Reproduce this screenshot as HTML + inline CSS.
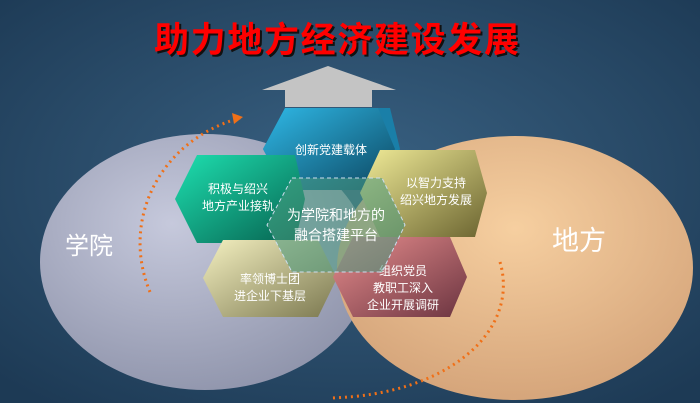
<!DOCTYPE html>
<html><head><meta charset="utf-8"><style>
body{margin:0;width:700px;height:403px;overflow:hidden;background:#2b4a66}
svg{display:block}
text{font-family:"Liberation Sans","Noto Sans CJK SC",sans-serif}
</style></head><body>
<svg width="700" height="403" viewBox="0 0 700 403">
<defs>
<radialGradient id="bg" cx="0.5" cy="0.45" r="0.7"><stop offset="0" stop-color="#3a6283"/><stop offset="1" stop-color="#1d3a55"/></radialGradient>
<radialGradient id="le" cx="0.4" cy="0.35" r="0.7"><stop offset="0" stop-color="#c6c9dc"/><stop offset="1" stop-color="#8f94ab"/></radialGradient>
<radialGradient id="re" cx="0.5" cy="0.35" r="0.7"><stop offset="0" stop-color="#f6cfa0"/><stop offset="1" stop-color="#d3a278"/></radialGradient>
<linearGradient id="h1" x1="0" y1="0" x2="1" y2="1"><stop offset="0" stop-color="#2fb8e6"/><stop offset="1" stop-color="#0c4660"/></linearGradient>
<linearGradient id="h2" x1="0" y1="0" x2="1" y2="1"><stop offset="0" stop-color="#1ee0b0"/><stop offset="1" stop-color="#06604e"/></linearGradient>
<linearGradient id="h3" x1="0" y1="0" x2="1" y2="1"><stop offset="0" stop-color="#f1ec98"/><stop offset="1" stop-color="#6b6430"/></linearGradient>
<linearGradient id="h4" x1="0" y1="0" x2="1" y2="1"><stop offset="0" stop-color="#f4f0c0"/><stop offset="1" stop-color="#7b7850"/></linearGradient>
<linearGradient id="h5" x1="0" y1="0" x2="1" y2="1"><stop offset="0" stop-color="#e88e8e"/><stop offset="1" stop-color="#6b3440"/></linearGradient>
</defs>
<rect width="700" height="403" fill="url(#bg)"/>
<ellipse cx="205" cy="262" rx="165" ry="128" fill="url(#le)"/>
<ellipse cx="515" cy="268" rx="178" ry="132" fill="url(#re)"/>
<text x="65" y="254" font-size="24" fill="#fff">学院</text>
<text x="552" y="250" font-size="27" fill="#fff">地方</text>
<!-- arrow -->
<polygon points="328,66 396,90 372,90 372,107 285,107 285,90 262,90" fill="#c4c4c4"/>
<!-- dotted arcs -->
<path d="M150,292 C120,220 160,140 240,118" fill="none" stroke="#f07018" stroke-width="3" stroke-dasharray="2,4"/>
<polygon points="243,117 232,113 234,124" fill="#f07018"/>
<path d="M500,262 C520,330 450,395 330,398" fill="none" stroke="#f07018" stroke-width="3" stroke-dasharray="2,4"/>
<!-- hexes -->
<polygon points="285,108 390,108 400,149 385,190 285,190 263,149" fill="#1a7fa8"/>
<polygon points="285,108 378,108 395,149 378,190 285,190 263,149" fill="url(#h1)"/>
<text x="331" y="154" font-size="12" fill="#fff" text-anchor="middle">创新党建载体</text>
<polygon points="197,155 295,155 305,199 295,243 197,243 175,199" fill="url(#h2)"/>
<text x="238" y="193" font-size="12" fill="#fff" text-anchor="middle">积极与绍兴</text>
<text x="238" y="210" font-size="12" fill="#fff" text-anchor="middle">地方产业接轨</text>
<polygon points="380,150 475,150 487,193 475,237 380,237 360,193" fill="url(#h3)"/>
<text x="436" y="187" font-size="12" fill="#fff" text-anchor="middle">以智力支持</text>
<text x="436" y="204" font-size="12" fill="#fff" text-anchor="middle">绍兴地方发展</text>
<polygon points="223,240 318,240 337,278 318,317 223,317 203,278" fill="url(#h4)"/>
<text x="270" y="283" font-size="12" fill="#fff" text-anchor="middle">率领博士团</text>
<text x="270" y="300" font-size="12" fill="#fff" text-anchor="middle">进企业下基层</text>
<polygon points="353,237 450,237 467,277 450,317 353,317 333,277" fill="url(#h5)"/>
<text x="403" y="275" font-size="12" fill="#fff" text-anchor="middle">组织党员</text>
<text x="403" y="292" font-size="12" fill="#fff" text-anchor="middle">教职工深入</text>
<text x="403" y="309" font-size="12" fill="#fff" text-anchor="middle">企业开展调研</text>
<polygon points="292,178 382,178 405,225 382,272 292,272 267,225" fill="#4a9a80" fill-opacity="0.55" stroke="#cde" stroke-width="1" stroke-dasharray="4,3"/>
<text x="336" y="220" font-size="14" fill="#fff" text-anchor="middle">为学院和地方的</text>
<text x="336" y="240" font-size="14" fill="#fff" text-anchor="middle">融合搭建平台</text>
<!-- title -->
<text x="156" y="54" font-size="35" font-weight="bold" fill="#111" textLength="365">助力地方经济建设发展</text>
<text x="154" y="52" font-size="35" font-weight="bold" fill="#f00" textLength="365">助力地方经济建设发展</text>
</svg>
</body></html>
